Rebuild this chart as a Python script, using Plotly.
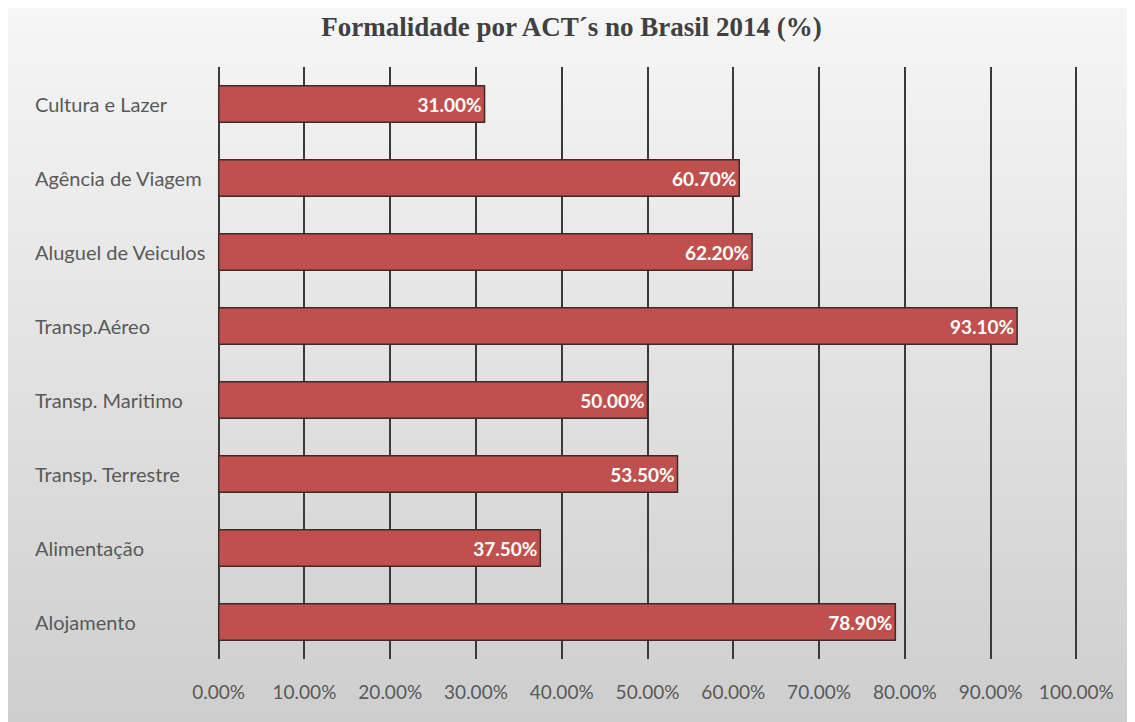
import plotly.graph_objects as go

# data, top to bottom as in the chart
categories = [
    "Cultura e Lazer",
    "Agência de Viagem",
    "Aluguel de Veiculos",
    "Transp.Aéreo",
    "Transp. Maritimo",
    "Transp. Terrestre",
    "Alimentação",
    "Alojamento",
]
formality = [0.31, 0.607, 0.622, 0.931, 0.50, 0.535, 0.375, 0.789]
x_ticks = [i / 10 for i in range(11)]

# the page body adds an 8px margin, so the figure is 8px smaller than the window
W, H = 1127, 714
ML, MR, MT, MB = 209, 57, 59, 63
PW, PH = W - ML - MR, H - MT - MB


def px_x(p):
    return (p - ML) / PW


def px_y(p):
    return 1 - (p - MT) / PH


fig = go.Figure()

fig.add_trace(
    go.Bar(
        x=formality,
        y=categories,
        orientation="h",
        width=0.49,
        marker=dict(color="#c0504d", line=dict(color="#3b2b2b", width=1.5)),
        texttemplate="%{x:.2%}",
        textposition="inside",
        insidetextanchor="end",
        textfont=dict(family="Lato", size=19, color="white", weight="bold"),
        constraintext="none",
        hoverinfo="skip",
    )
)

# gradient background (light at top, grey at bottom)
shapes = []
n_bands = 80
c_top, c_bot = 246, 206
for i in range(n_bands):
    y0 = H * i / n_bands
    y1 = H * (i + 1) / n_bands + 1
    c = round(c_top + (c_bot - c_top) * i / (n_bands - 1))
    shapes.append(
        dict(
            type="rect",
            xref="paper",
            yref="paper",
            x0=px_x(0),
            x1=px_x(W),
            y0=px_y(y0),
            y1=px_y(y1),
            fillcolor=f"rgb({c},{c},{c})",
            line=dict(width=0),
            layer="below",
        )
    )

# left-aligned category labels
annotations = [
    dict(
        x=0,
        y=cat,
        xref="paper",
        yref="y",
        text=cat,
        showarrow=False,
        xanchor="left",
        xshift=25 - ML,
        font=dict(family="Lato", size=20, color="#595959"),
    )
    for cat in categories
]

fig.update_layout(
    width=W,
    height=H,
    margin=dict(l=ML, r=MR, t=MT, b=MB),
    paper_bgcolor="white",
    plot_bgcolor="rgba(0,0,0,0)",
    showlegend=False,
    title=dict(
        text="<b>Formalidade por ACT´s no Brasil 2014 (%)</b>",
        x=0.5,
        xref="container",
        xanchor="center",
        y=1 - 19 / H,
        yanchor="middle",
        font=dict(family="Liberation Serif", size=27, color="#404040"),
    ),
    shapes=shapes,
    annotations=annotations,
    xaxis=dict(
        range=[-0.002, 1.002],
        tickvals=x_ticks,
        tickformat=".2%",
        showgrid=True,
        gridcolor="#3a3a3a",
        gridwidth=2,
        zeroline=False,
        showline=False,
        ticks="outside",
        ticklen=16,
        tickcolor="rgba(0,0,0,0)",
        tickfont=dict(family="Lato", size=19, color="#595959"),
    ),
    yaxis=dict(
        autorange="reversed",
        showticklabels=False,
        showgrid=False,
        zeroline=False,
        showline=False,
    ),
)

fig.write_html("out.html")
